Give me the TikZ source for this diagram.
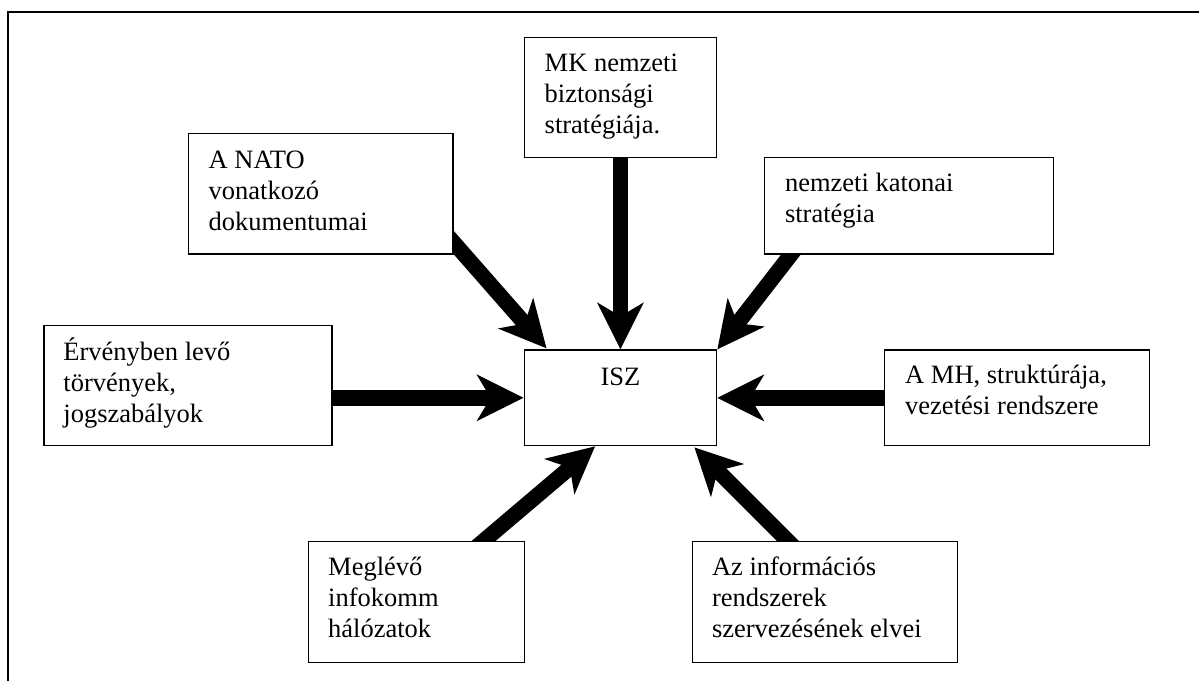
\documentclass[tikz,border=0pt]{standalone}
\usepackage{fontspec}
\setmainfont{Liberation Serif}
\usetikzlibrary{arrows.meta,calc,backgrounds}
\begin{document}
\begin{tikzpicture}[x=1pt,y=-1pt,
  box/.style={draw, fill=white, line width=1.4pt, inner sep=0pt, anchor=north west},
  txt/.style={anchor=base west, align=left, inner sep=0pt, font=\fontsize{26.5}{31}\selectfont},
  bigarrow/.style={line width=15.5pt, -{Stealth[length=47pt,width=47pt,inset=14pt,line width=0pt]}}]
\useasboundingbox (0,0) rectangle (1199,680);
\draw[line width=2pt] (8.4,690) -- (8.4,11.7) -- (1210,11.7);

% boxes
\node[box, minimum width=264.9pt, minimum height=120.6pt] (nato) at (187.5,132.7) {};
\node[box, minimum width=192.5pt, minimum height=120pt] (mk) at (523.5,36.7) {};
\node[box, minimum width=289.2pt, minimum height=96.6pt] (kat) at (763.8,156.7) {};
\node[box, minimum width=288.2pt, minimum height=120pt] (erv) at (43.2,325) {};
\node[box, minimum width=192.5pt, minimum height=95.7pt] (isz) at (523.5,349.3) {};
\node[box, minimum width=265pt, minimum height=95.7pt] (mh) at (884,349.3) {};
\node[box, minimum width=216.3pt, minimum height=121pt] (meg) at (307.7,540.7) {};
\node[box, minimum width=264.9pt, minimum height=121pt] (az) at (691.8,540.7) {};

% texts (anchor = baseline of the last line)
\node[txt] (natot) at ([shift={(21,97.6)}]nato.north west) {A NATO\\vonatkozó\\dokumentumai};
\node[txt] (mkt) at ([shift={(21,97)}]mk.north west) {MK nemzeti\\biztonsági\\stratégiája.};
\node[txt] (katt) at ([shift={(21,66)}]kat.north west) {nemzeti katonai\\stratégia};
\node[txt] (ervt) at ([shift={(20,97)}]erv.north west) {Érvényben levő\\törvények,\\jogszabályok};
\node[txt, anchor=base] (iszt) at ([shift={(0,35.7)}]isz.north) {ISZ};
\node[txt] (mht) at ([shift={(21,65)}]mh.north west) {A MH, struktúrája,\\vezetési rendszere};
\node[txt] (megt) at ([shift={(20.3,96.3)}]meg.north west) {Meglévő\\infokomm\\hálózatok};
\node[txt] (azt) at ([shift={(20,96.3)}]az.north west) {Az információs\\rendszerek\\szervezésének elvei};

% arrow end points
\coordinate (s1) at (erv.east |- isz.west);
\coordinate (s2) at (mh.west |- isz.east);
\coordinate (s3) at ([shift={(0,-12)}]nato.south east);
\coordinate (e3) at ([shift={(23,-1)}]isz.north west);
\coordinate (s4) at ([shift={(27,0)}]kat.south west);
\coordinate (s5) at ([shift={(-41.5,0)}]meg.north east);
\coordinate (e5) at ([shift={(71.5,0)}]isz.south west);
\coordinate (s6) at ([shift={(95.7,0)}]az.north west);
\coordinate (e6) at ([shift={(-23,1)}]isz.south east);

\begin{pgfonlayer}{background}
\draw[bigarrow] ($(s1)!-10pt!(isz.west)$) -- (isz.west);
\draw[bigarrow] ($(s2)!-10pt!(isz.east)$) -- (isz.east);
\draw[bigarrow] ($(mk.south)!-10pt!(isz.north)$) -- (isz.north);
\draw[bigarrow] ($(s3)!-14pt!(e3)$) -- (e3);
\draw[bigarrow] ($(s4)!-14pt!(isz.north east)$) -- (isz.north east);
\draw[bigarrow] ($(s5)!-14pt!(e5)$) -- (e5);
\draw[bigarrow] ($(s6)!-14pt!(e6)$) -- (e6);
\end{pgfonlayer}
\end{tikzpicture}
\end{document}
